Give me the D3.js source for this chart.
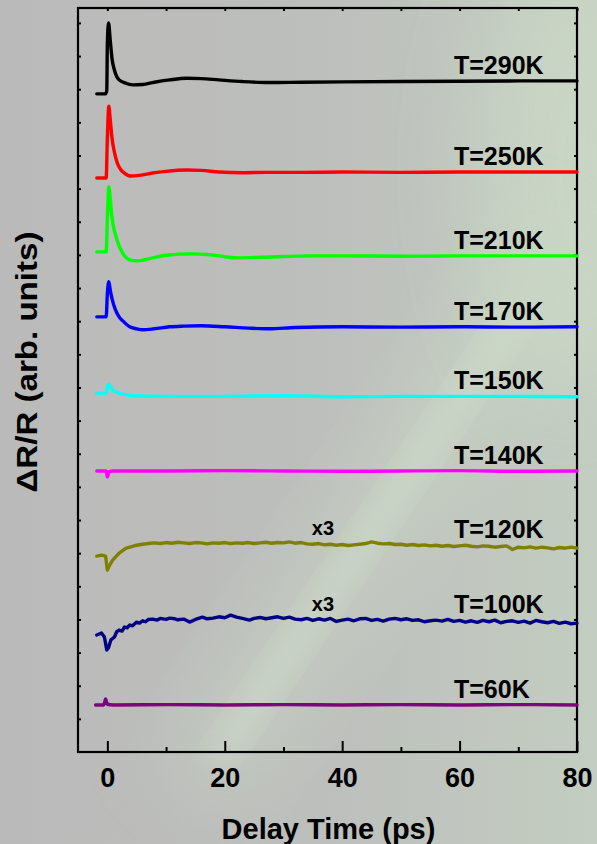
<!DOCTYPE html>
<html>
<head>
<meta charset="utf-8">
<script src="https://cdn.jsdelivr.net/npm/d3@7"></script>
<style>
  html, body { margin: 0; padding: 0; background: #bcbcbc; }
  svg { display: block; }
  text { font-family: "Liberation Sans", Arial, sans-serif; font-weight: bold; fill: #000; }
</style>
</head>
<body>
<svg id="canvas"></svg>
<script>
// delay times in ps, values in arb. units relative to each trace's baseline
const labels = ["T=290K", "T=250K", "T=210K", "T=170K", "T=150K", "T=140K", "T=120K", "T=100K", "T=60K"];
const offsets = [19.86, 17.32, 15.09, 13.13, 10.83, 8.48, 5.91, 3.53, 1.42];
const colors = ["#000000", "#ff0000", "#00ff00", "#0000ff", "#00ffff", "#ff00ff", "#808000", "#000080", "#800080"];
const magnified = ["T=120K", "T=100K"];
const xMajor = [0, 20, 40, 60, 80];
const xMinor = [10, 30, 50, 70];

const trace290 = [[-1.8,0],[-0.3,0],[-0.1,0.1],[0,1.5],[0.2,2.14],[0.5,1.6],[0.8,1.05],[1.2,0.72],[1.6,0.52],[2,0.42],[3,0.33],[4.3,0.27],[6,0.28],[8,0.35],[10.6,0.42],[13.5,0.47],[16,0.46],[19,0.42],[23,0.37],[27.6,0.34],[33,0.35],[40,0.36],[50,0.37],[60,0.38],[70,0.39],[80,0.39]];
const trace250 = [[-1.8,0],[-0.2,0],[0,1.2],[0.25,2.17],[0.5,1.75],[0.8,1.2],[1.2,0.78],[1.7,0.45],[2.3,0.25],[2.9,0.15],[4,0.06],[5.5,0.08],[7.7,0.15],[10,0.2],[13.5,0.24],[16,0.23],[19,0.18],[23,0.16],[27,0.17],[33,0.17],[40,0.18],[50,0.17],[60,0.18],[70,0.18],[80,0.18]];
const trace210 = [[-1.8,0],[-0.2,0],[0,1.0],[0.25,1.96],[0.5,1.6],[0.7,1.18],[1,0.8],[1.5,0.45],[2,0.18],[2.6,-0.03],[3.8,-0.24],[5,-0.27],[6,-0.25],[7.7,-0.18],[10,-0.1],[14.5,-0.06],[17,-0.08],[19,-0.12],[22,-0.18],[25,-0.17],[30,-0.14],[35,-0.12],[40,-0.12],[50,-0.13],[60,-0.12],[70,-0.12],[80,-0.12]];
const trace170 = [[-1.8,0],[-0.2,0],[0,0.7],[0.25,1.06],[0.5,0.8],[0.85,0.51],[1.3,0.25],[2,0],[2.8,-0.15],[3.8,-0.3],[5,-0.36],[6,-0.39],[8,-0.36],[10.6,-0.3],[13,-0.28],[16,-0.27],[20,-0.3],[24,-0.34],[27.6,-0.36],[32,-0.32],[40,-0.3],[50,-0.31],[60,-0.3],[70,-0.31],[80,-0.3]];
const trace150 = [[-1.8,0],[-0.2,0],[0,0.2],[0.3,0.27],[0.6,0.18],[0.9,0.09],[2,0],[3.5,-0.06],[5,-0.09],[10,-0.1],[20,-0.1],[30,-0.08],[40,-0.11],[50,-0.1],[60,-0.1],[70,-0.1],[80,-0.11]];
const trace140 = [[-1.8,0],[-0.2,0],[0,-0.18],[0.3,-0.02],[1,0],[10,0],[20,0.01],[30,0],[40,-0.01],[50,0],[60,0.01],[70,-0.01],[80,0]];
const trace120 = [[-1.8,0],[-1,0.03],[-0.3,0],[0,-0.42],[0.3,-0.3],[0.9,-0.12],[2,0.09],[3.2,0.24],[4,0.28],[5,0.33],[6,0.36],[7,0.38],[8,0.4],[9,0.38],[10,0.41],[11,0.39],[12,0.42],[13,0.4],[14,0.38],[15,0.41],[16,0.4],[17,0.37],[18,0.4],[19,0.39],[20,0.41],[21,0.38],[22,0.4],[23,0.39],[24,0.41],[25,0.38],[26,0.4],[27,0.42],[28,0.39],[29,0.41],[30,0.4],[31,0.43],[32,0.39],[33,0.41],[34,0.37],[35,0.36],[36,0.38],[37,0.34],[38,0.36],[39,0.33],[40,0.35],[41,0.32],[42,0.34],[43,0.36],[44,0.38],[45,0.43],[46,0.39],[47,0.37],[48,0.38],[49,0.35],[50,0.36],[51,0.33],[52,0.35],[53,0.32],[54,0.34],[55,0.31],[56,0.33],[57,0.3],[58,0.32],[59,0.29],[60,0.31],[61,0.33],[62,0.3],[63,0.28],[64,0.31],[65,0.3],[66,0.27],[67,0.29],[68,0.31],[69,0.2],[70,0.27],[71,0.25],[72,0.28],[73,0.24],[74,0.27],[75,0.25],[76,0.22],[77,0.26],[78,0.24],[79,0.27],[80,0.24]];
const trace100 = [[-1.8,0],[-1,0.06],[-0.5,-0.06],[-0.1,-0.45],[0.2,-0.38],[0.6,-0.15],[1.2,-0.06],[1.6,0.1],[2,0.15],[2.5,0.12],[2.9,0.24],[3.4,0.22],[3.8,0.3],[4.3,0.28],[5,0.39],[5.5,0.36],[6,0.43],[6.5,0.4],[7,0.47],[7.7,0.48],[8.5,0.45],[9,0.5],[10,0.47],[10.6,0.51],[11.5,0.49],[12,0.46],[13,0.48],[14,0.39],[15,0.47],[16.2,0.54],[17,0.49],[18,0.51],[19,0.55],[20,0.52],[21,0.6],[22,0.54],[23,0.5],[24.2,0.45],[25,0.5],[26,0.53],[27,0.49],[28,0.52],[29,0.55],[30,0.5],[31,0.54],[32,0.48],[33,0.46],[34,0.5],[35,0.44],[36,0.49],[37,0.45],[38,0.5],[39,0.41],[40,0.45],[41,0.48],[42,0.43],[43,0.49],[44,0.5],[45,0.44],[46,0.47],[47,0.42],[48,0.48],[49,0.5],[50,0.46],[51,0.49],[52,0.44],[53,0.46],[54,0.4],[55,0.43],[56,0.45],[57,0.42],[58,0.47],[59,0.41],[60,0.44],[61,0.39],[62,0.43],[63,0.38],[64,0.44],[65,0.4],[66,0.45],[67,0.37],[68,0.41],[69,0.43],[70,0.38],[71,0.42],[72,0.36],[73,0.44],[74,0.4],[75,0.37],[76,0.41],[77,0.35],[78,0.39],[79,0.34],[80,0.36]];
const trace60 = [[-2,0],[-0.6,0],[-0.3,0.18],[0,0.02],[1,0],[10,0.01],[20,0],[30,0.01],[40,0],[50,0.01],[60,0],[70,0.01],[80,0]];

const traces = [trace290, trace250, trace210, trace170, trace150, trace140, trace120, trace100, trace60];

const width = 597,
    height = 844;

const box = { left: 78, right: 577, top: 8, bottom: 752 };

const svg = d3.select("#canvas")
    .attr("width", width)
    .attr("height", height);

// background: grey with a greenish light streak
const defs = svg.append("defs");
const bgGrad = defs.append("linearGradient").attr("id", "bgGrad")
    .attr("x1", 0).attr("y1", 0).attr("x2", 1).attr("y2", 0);
bgGrad.append("stop").attr("offset", "0%").attr("stop-color", "#bababa");
bgGrad.append("stop").attr("offset", "55%").attr("stop-color", "#bdbfbc");
bgGrad.append("stop").attr("offset", "100%").attr("stop-color", "#c3cdc1");
defs.append("filter").attr("id", "blur")
    .attr("x", "-50%").attr("y", "-50%").attr("width", "200%").attr("height", "200%")
    .append("feGaussianBlur").attr("stdDeviation", 16);
defs.append("filter").attr("id", "blurWide")
    .attr("x", "-50%").attr("y", "-50%").attr("width", "200%").attr("height", "200%")
    .append("feGaussianBlur").attr("stdDeviation", 40);

svg.append("rect").attr("width", width).attr("height", height).attr("fill", "url(#bgGrad)");
svg.append("ellipse")
    .attr("cx", 570).attr("cy", 170).attr("rx", 90).attr("ry", 220)
    .attr("fill", "#cddbc8").attr("opacity", 0.6)
    .attr("filter", "url(#blurWide)");
const streak = svg.append("g").attr("transform", "translate(385, 510) rotate(-56)");
streak.append("rect")
    .attr("x", -330).attr("y", -45).attr("width", 640).attr("height", 90)
    .attr("fill", "#cbd8c6").attr("opacity", 0.5)
    .attr("filter", "url(#blurWide)");
streak.append("rect")
    .attr("x", -300).attr("y", -12).attr("width", 540).attr("height", 24)
    .attr("fill", "#d6e6d0").attr("opacity", 0.5)
    .attr("filter", "url(#blur)");

const scaleX = d3.scaleLinear()
    .domain([-5, 80])
    .range([box.left, box.right]);
const scaleY = d3.scaleLinear()
    .domain([0, 22.45])
    .range([box.bottom, box.top]);

// axes: ticks point into the plot, no y labels
const axisBottomMajor = svg.append("g")
    .attr("transform", `translate(0, ${box.bottom})`)
    .call(d3.axisBottom(scaleX).tickValues(xMajor).tickSize(-11).tickPadding(16).tickFormat(d3.format("d")));
const axisBottomMinor = svg.append("g")
    .attr("transform", `translate(0, ${box.bottom})`)
    .call(d3.axisBottom(scaleX).tickValues(xMinor).tickSize(-5).tickFormat(""));
const axisTop = svg.append("g")
    .attr("transform", `translate(0, ${box.top})`)
    .call(d3.axisTop(scaleX).tickValues(xMajor.concat(xMinor)).tickSize(-3).tickFormat(""));
const yTicks = d3.range(1, 23);
const axisLeft = svg.append("g")
    .attr("transform", `translate(${box.left}, 0)`)
    .call(d3.axisLeft(scaleY).tickValues(yTicks).tickSize(-3).tickFormat(""));
const axisRight = svg.append("g")
    .attr("transform", `translate(${box.right}, 0)`)
    .call(d3.axisRight(scaleY).tickValues(yTicks).tickSize(-3).tickFormat(""));

svg.selectAll(".domain").remove();
svg.selectAll(".tick line").attr("stroke", "#000").attr("stroke-width", 2);
axisBottomMajor.selectAll("text")
    .attr("font-size", 27).attr("font-family", null).attr("fill", "#000");

svg.append("rect")
    .attr("x", box.left).attr("y", box.top)
    .attr("width", box.right - box.left).attr("height", box.bottom - box.top)
    .attr("fill", "none").attr("stroke", "#000").attr("stroke-width", 2.2);

// traces: smooth curves for the sparse ones, straight segments for the noisy ones
const lineGenerator = (offset, noisy) => d3.line()
    .x((d) => scaleX(d[0]))
    .y((d) => scaleY(offset + d[1]))
    .curve(noisy ? d3.curveLinear : d3.curveMonotoneX);

const traceGroup = svg.append("g").classed("traces", true);
traces.forEach((trace, i) => {
    traceGroup.append("path")
        .attr("fill", "none")
        .attr("stroke", colors[i])
        .attr("stroke-width", 3.4)
        .attr("stroke-linejoin", "round")
        .attr("stroke-linecap", "round")
        .attr("d", lineGenerator(offsets[i], trace.length > 60)(trace));
});

// temperature labels sit just above the tail of each trace
const labelGroup = svg.append("g").classed("labels", true);
traces.forEach((trace, i) => {
    const tailMax = d3.max(trace.filter((d) => d[0] >= 60), (d) => d[1]);
    labelGroup.append("text")
        .attr("x", 454)
        .attr("y", scaleY(offsets[i] + tailMax) - 7)
        .attr("font-size", 25)
        .text(labels[i]);
    if (magnified.includes(labels[i])) {
        const near = trace.find((d) => d[0] >= 35);
        labelGroup.append("text")
            .attr("x", scaleX(35) - 1)
            .attr("y", scaleY(offsets[i] + near[1]) - 9)
            .attr("font-size", 20)
            .text("x3");
    }
});

// axis titles
svg.append("text")
    .attr("x", (box.left + box.right) / 2 + 1)
    .attr("y", 839)
    .attr("text-anchor", "middle")
    .attr("font-size", 29)
    .text("Delay Time (ps)");
svg.append("text")
    .attr("transform", "translate(37, 362) rotate(-90)")
    .attr("text-anchor", "middle")
    .attr("font-size", 29)
    .attr("textLength", 261)
    .attr("lengthAdjust", "spacingAndGlyphs")
    .text("ΔR/R (arb. units)");
</script>
</body>
</html>
